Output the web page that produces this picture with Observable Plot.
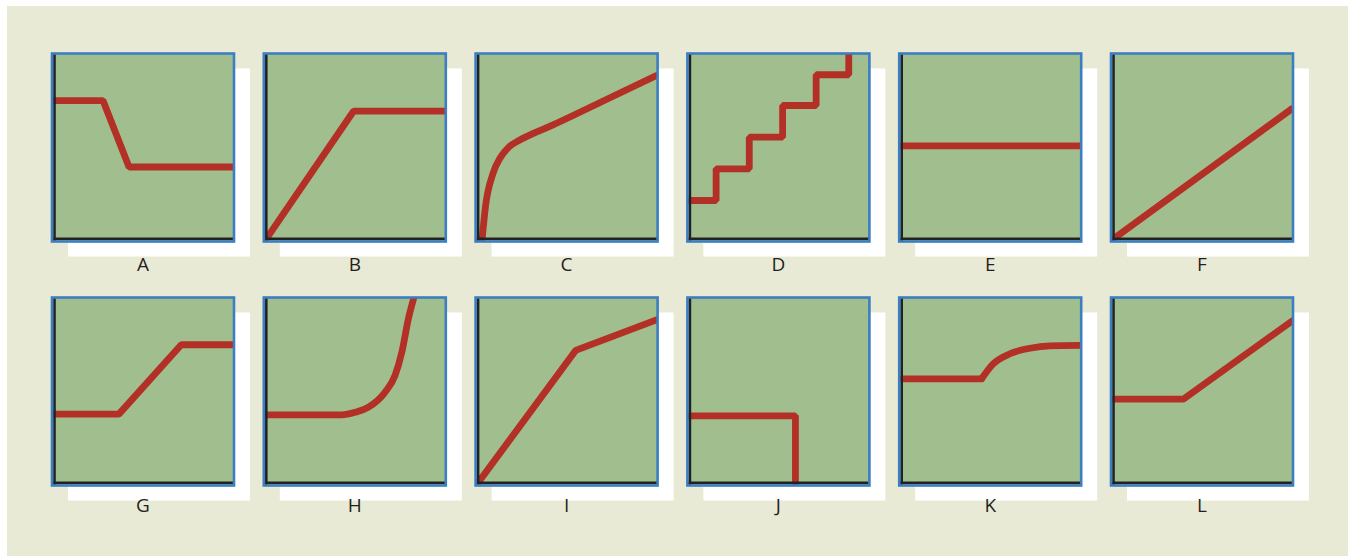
<!DOCTYPE html>
<html>
<head>
<meta charset="utf-8">
<script src="https://cdn.jsdelivr.net/npm/d3@7"></script>
<script src="https://cdn.jsdelivr.net/npm/@observablehq/plot@0.6"></script>
<style>
  html, body { margin: 0; padding: 0; background: #ffffff; }
  #bg { position: absolute; left: 7px; top: 6px; width: 1341px; height: 550px; background: #e8ead6; }
  #chart { position: absolute; left: 0; top: 0; }
</style>
</head>
<body>
<div id="bg"></div>
<div id="chart"></div>
<script>
// Panel labels (categories)
const labels = ["A", "B", "C", "D", "E", "F", "G", "H", "I", "J", "K", "L"];

// Series values: [x, y] in each panel's normalised axes (0..1)
const A = [[0, 0.751], [0.272, 0.751], [0.418, 0.39], [1, 0.39]];
const B = [[0, 0], [0.489, 0.693], [1, 0.693]];
const C = [[0.023, 0.0], [0.041, 0.172], [0.083, 0.353], [0.126, 0.443], [0.172, 0.498], [0.229, 0.534], [0.304, 0.570], [0.379, 0.601], [0.69, 0.743], [1, 0.887]];
const D = [[0, 0.208], [0.147, 0.208], [0.147, 0.380], [0.333, 0.380], [0.333, 0.552], [0.520, 0.552], [0.520, 0.724], [0.708, 0.724], [0.708, 0.891], [0.891, 0.891], [0.891, 1]];
const E = [[0, 0.505], [1, 0.505]];
const F = [[0, 0], [1, 0.706]];
const G = [[0, 0.373], [0.361, 0.373], [0.711, 0.750], [1, 0.750]];
const H = [[0, 0.369], [0.423, 0.369], [0.498, 0.383], [0.573, 0.411], [0.666, 0.492], [0.722, 0.583], [0.760, 0.709], [0.797, 0.891], [0.826, 1]];
const I = [[0, 0], [0.547, 0.719], [1, 0.885]];
const J = [[0, 0.364], [0.592, 0.364], [0.592, 0]];
const Kflat = [[0, 0.565], [0.448, 0.565]];
const Karc = [[0.448, 0.565], [0.513, 0.646], [0.607, 0.701], [0.719, 0.731], [0.831, 0.744], [1, 0.746]];
const L = [[0, 0.454], [0.391, 0.454], [1, 0.878]];

const straightSeries = [["A", A], ["B", B], ["D", D], ["E", E], ["F", F], ["G", G], ["I", I], ["J", J], ["K", Kflat], ["L", L]];
const smoothSeries = [["C", C], ["H", H], ["K", Karc]];

const col = (lab) => labels.indexOf(lab) % 6;
const row = (lab) => Math.floor(labels.indexOf(lab) / 6);

const toRows = (series) => series.flatMap(([lab, pts]) =>
  pts.map(([x, y]) => ({label: lab, x, y, fx: col(lab), fy: row(lab)})));

const straightRows = toRows(straightSeries);
const smoothRows = toRows(smoothSeries);
const labelRows = labels.map((lab) => ({label: lab, fx: col(lab), fy: row(lab)}));

const GREEN = "#a1bf8e", BLUE = "#3b7ec2", RED = "#b33026", INK = "#222222";
const labelStyle = {fx: "fx", fy: "fy", text: "label", frameAnchor: "bottom", lineAnchor: "top",
  fontSize: 19, fontFamily: "'Open Sans', sans-serif", fill: "#231f20"};

const chart = Plot.plot({
  width: 1348,
  height: 557,
  marginLeft: 51.5,
  marginRight: 55.5,
  marginTop: 53,
  marginBottom: 72,
  style: {background: "transparent", overflow: "visible"},
  fx: {domain: [0, 1, 2, 3, 4, 5], paddingInner: 1 - 182 / 211.8, paddingOuter: 0, round: false, axis: null},
  fy: {domain: [0, 1], paddingInner: 1 - 188 / 244, paddingOuter: 0, round: false, axis: null},
  x: {domain: [0, 1], insetLeft: 2.5, insetRight: 1.2, axis: null},
  y: {domain: [0, 1], insetTop: 1.2, insetBottom: 2.7, axis: null},
  marks: [
    Plot.frame({fill: "#ffffff", dx: 16, dy: 15}),
    Plot.frame({fill: GREEN}),
    Plot.line(straightRows, {x: "x", y: "y", z: "label", fx: "fx", fy: "fy", stroke: RED, strokeWidth: 6.8,
      strokeLinecap: "round", strokeLinejoin: "miter", curve: "linear", clip: true}),
    Plot.line(smoothRows, {x: "x", y: "y", z: "label", fx: "fx", fy: "fy", stroke: RED, strokeWidth: 6.8,
      strokeLinecap: "round", strokeLinejoin: "round", curve: "monotone-x", clip: true}),
    Plot.ruleX([0], {stroke: INK, strokeWidth: 2.6}),
    Plot.ruleY([0], {stroke: INK, strokeWidth: 2.6}),
    Plot.frame({stroke: BLUE, strokeWidth: 2.6}),
    Plot.text(labelRows.filter((d) => d.fy === 0), {...labelStyle, dy: 16}),
    Plot.text(labelRows.filter((d) => d.fy === 1), {...labelStyle, dy: 12.5})
  ]
});
document.getElementById("chart").appendChild(chart);
</script>
</body>
</html>
